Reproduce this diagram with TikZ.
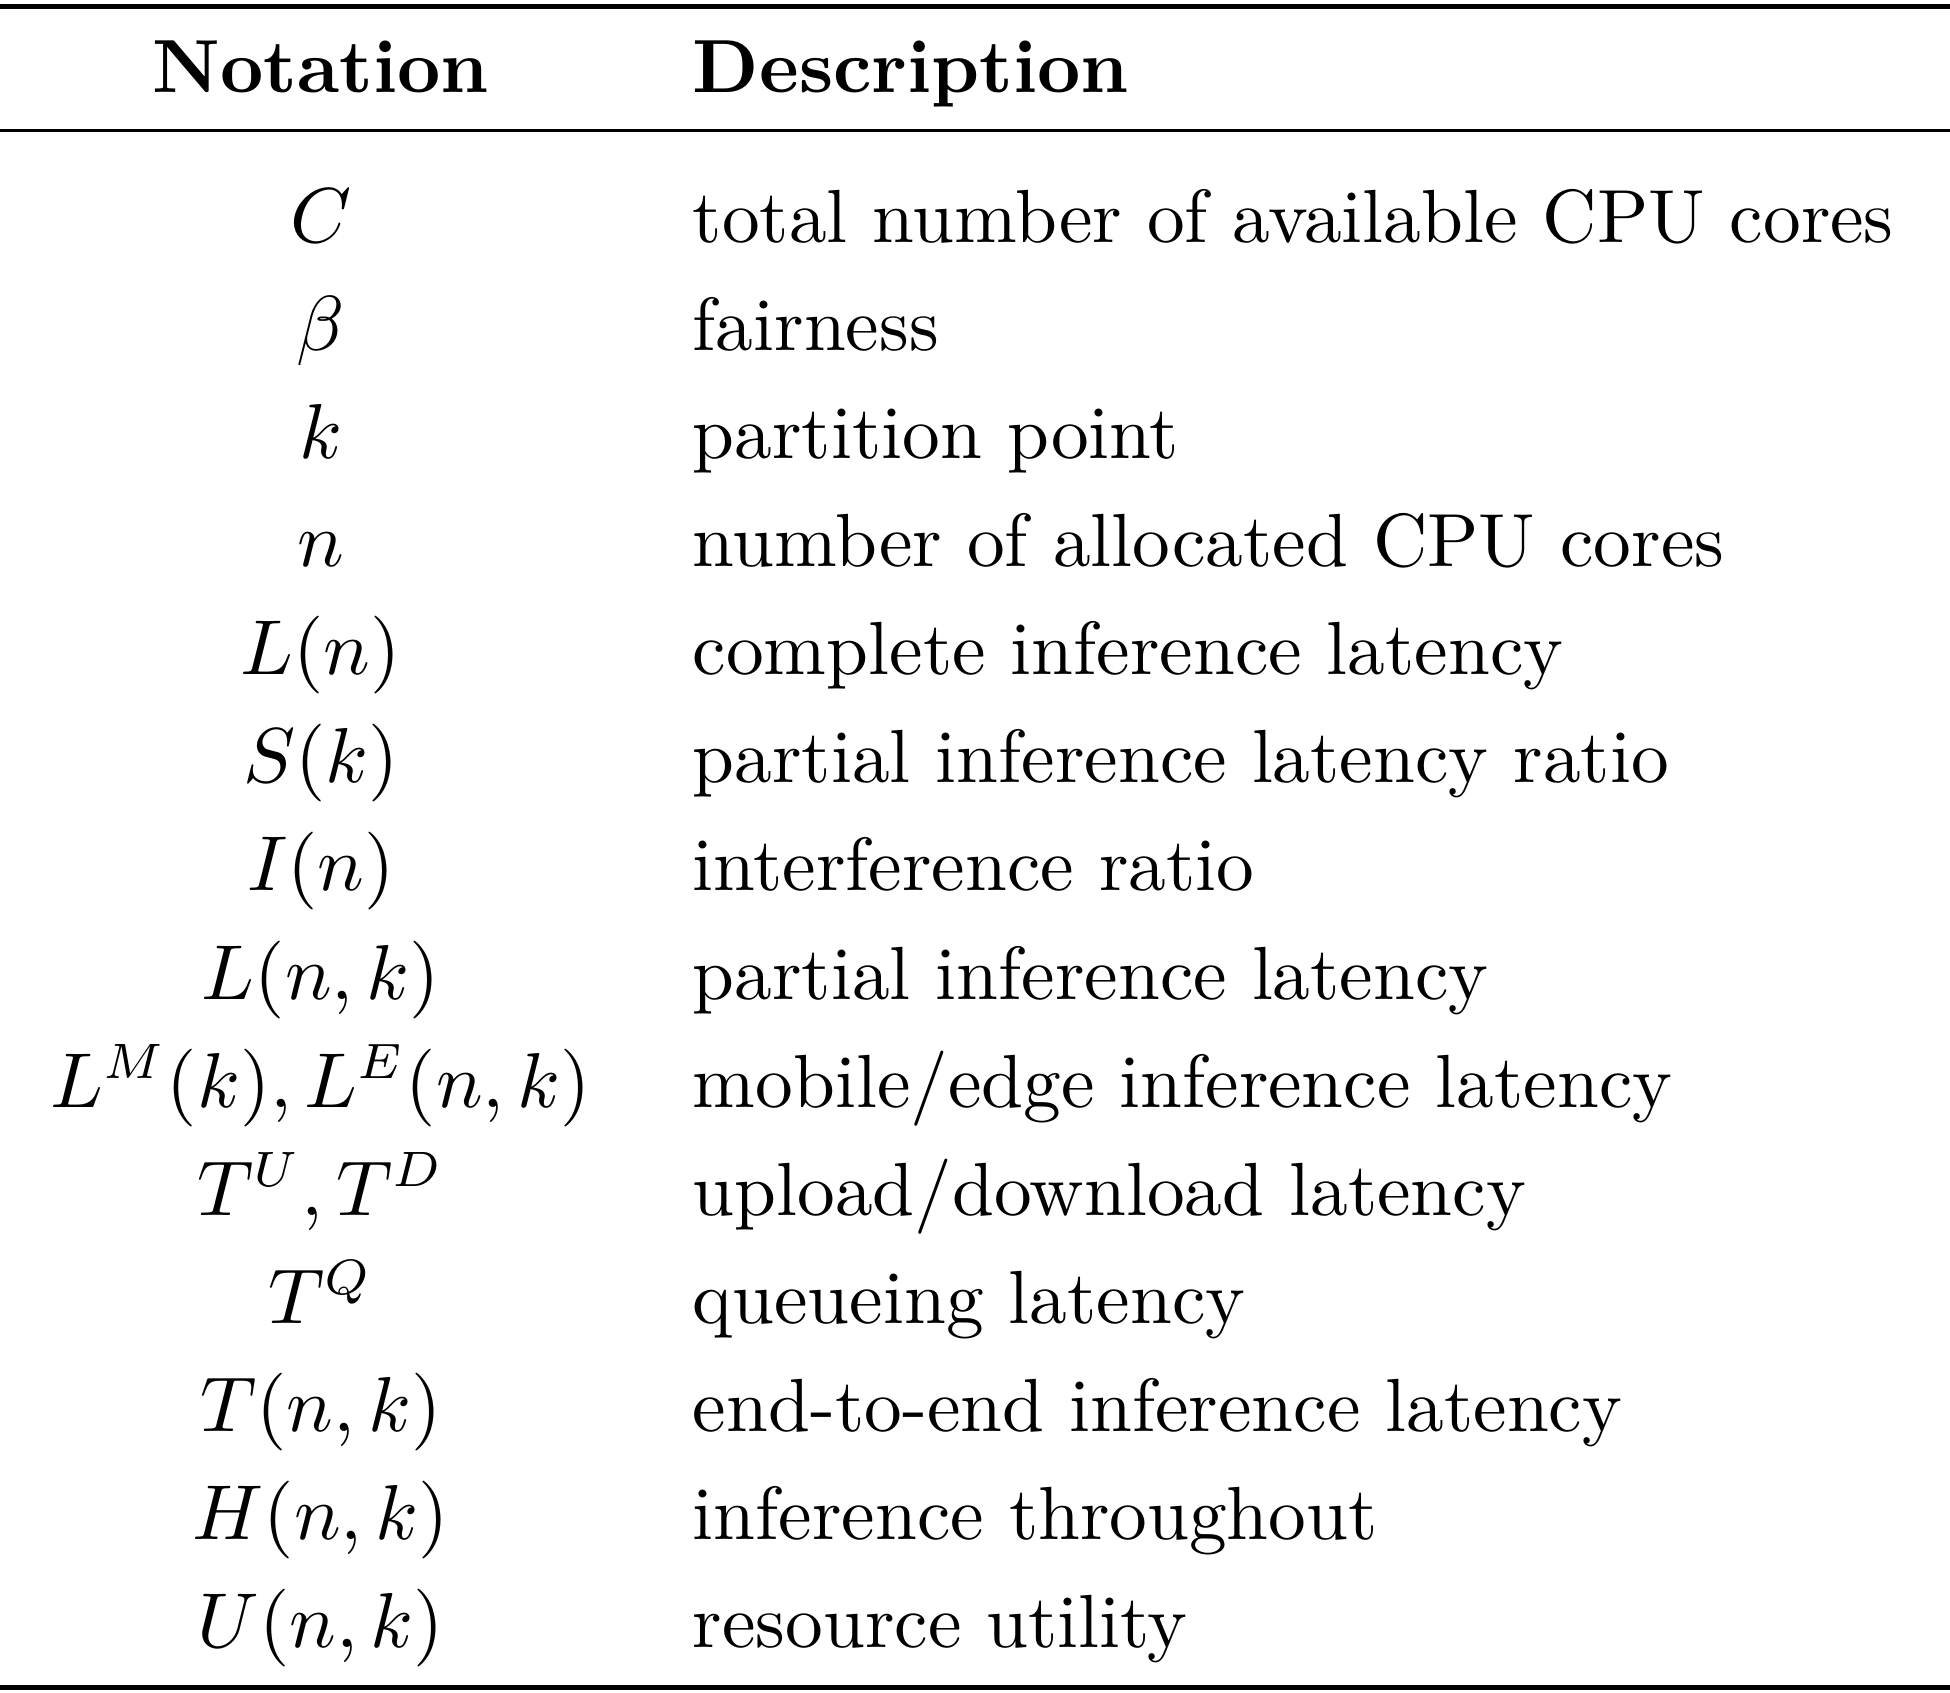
\documentclass[tikz,border=0pt]{standalone}
\begin{document}
\begin{tikzpicture}[x=0.175pt,y=-0.175pt,
  nt/.style={anchor=base,inner sep=0pt,font=\fontsize{10.6}{12}\selectfont},
  ds/.style={anchor=base west,inner sep=0pt,font=\fontsize{10.6}{12}\selectfont}]
\useasboundingbox (0,0) rectangle (1568,1361);
\draw[line width=0.7pt] (0,5) -- (1568,5);
\draw[line width=0.4pt] (0,105) -- (1568,105);
\draw[line width=0.7pt] (0,1357) -- (1568,1357);
\node[nt,font=\fontsize{10.6}{12}\selectfont\bfseries] (h1) at (258,74) {Notation};
\node[ds,font=\fontsize{10.6}{12}\selectfont\bfseries] (h2) at (556,74) {Description};
\foreach \i/\n/\d in {0/{$C$}/{total number of available CPU cores},
 1/{$\beta$}/{fairness},
 2/{$k$}/{partition point},
 3/{$n$}/{number of allocated CPU cores},
 4/{$L(n)$}/{complete inference latency},
 5/{$S(k)$}/{partial inference latency ratio},
 6/{$I(n)$}/{interference ratio},
 7/{$L(n,k)$}/{partial inference latency},
 8/{$L^M(k), L^E(n,k)$}/{mobile/edge inference latency},
 9/{$T^U, T^D$}/{upload/download latency},
 10/{$T^Q$}/{queueing latency},
 11/{$T(n,k)$}/{end-to-end inference latency},
 12/{$H(n,k)$}/{inference throughout},
 13/{$U(n,k)$}/{resource utility}}
{
 \node[nt] (n\i) at (258,{195+86.9*\i}) {\n};
 \node[ds] (d\i) at (556,{195+86.9*\i}) {\d};
}
\end{tikzpicture}
\end{document}
